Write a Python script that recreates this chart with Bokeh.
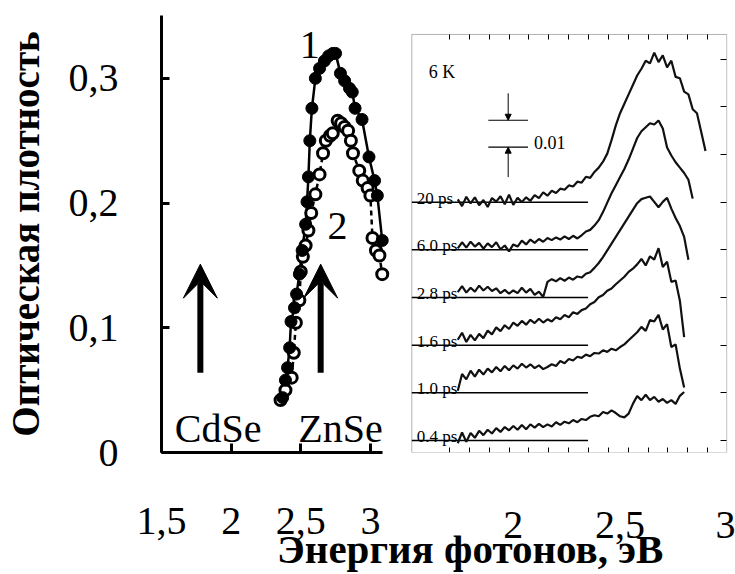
from bokeh.plotting import figure
from bokeh.models import (FixedTicker, LinearAxis, Arrow, VeeHead, NormalHead, Label, Range1d,
                          BoxAnnotation)
from bokeh.embed import file_html
from bokeh.resources import INLINE

FONT = "Liberation Serif"

# ---------------- left panel: optical density ----------------
E1 = [2.37, 2.39, 2.405, 2.42, 2.43, 2.455, 2.47, 2.49, 2.51, 2.535, 2.545, 2.555, 2.565, 2.58,
      2.605, 2.635, 2.67, 2.70, 2.73, 2.75, 2.785, 2.815, 2.85, 2.87, 2.89, 2.94, 2.99, 3.03,
      3.05, 3.085]
OD1 = [0.044, 0.058, 0.068, 0.084, 0.105, 0.116, 0.127, 0.143, 0.162, 0.183, 0.201, 0.221, 0.250,
       0.276, 0.300, 0.308, 0.314, 0.318, 0.320, 0.320, 0.304, 0.298, 0.292, 0.289, 0.276, 0.267,
       0.237, 0.218, 0.206, 0.170]
E2 = [2.355, 2.39, 2.435, 2.45, 2.465, 2.49, 2.50, 2.515, 2.535, 2.555, 2.575, 2.605, 2.635, 2.66,
      2.68, 2.71, 2.73, 2.765, 2.79, 2.815, 2.84, 2.86, 2.875, 2.92, 2.945, 2.98, 3.0, 3.015,
      3.04, 3.065, 3.085]
OD2 = [0.042, 0.050, 0.060, 0.080, 0.104, 0.122, 0.145, 0.157, 0.166, 0.178, 0.192, 0.207, 0.223,
       0.240, 0.250, 0.254, 0.256, 0.266, 0.264, 0.261, 0.258, 0.250, 0.240, 0.226, 0.218, 0.212,
       0.206, 0.172, 0.162, 0.158, 0.143]
LEFT_XTICKS = [1.5, 2, 2.5, 3]
LEFT_XLABELS = ["1,5", "2", "2,5", "3"]
LEFT_YTICKS = [0, 0.1, 0.2, 0.3]
LEFT_YLABELS = ["0", "0,1", "0,2", "0,3"]
LEFT_AXIS_END = 3.085
ARROW_X = [1.779, 2.643]
ARROW_Y0 = 0.064
ARROW_Y1 = 0.151
LEFT_TEXTS = ["1", "2"]
LEFT_TEXT_X = [2.564, 2.764]
LEFT_TEXT_Y = [0.327, 0.182]
MAT_TEXTS = ["CdSe", "ZnSe"]
MAT_X = [1.907, 2.786]
MAT_Y = 0.019

# ---------------- right panel: differential spectra (mOD) ----------------
E_GRID = [1.74, 1.76, 1.78, 1.80, 1.82, 1.84, 1.86, 1.88, 1.90, 1.92, 1.94, 1.96, 1.98, 2.00,
          2.02, 2.04, 2.06, 2.08, 2.10, 2.12, 2.14, 2.16, 2.18, 2.20, 2.22, 2.24, 2.26, 2.28,
          2.30, 2.32, 2.34, 2.36, 2.38, 2.40, 2.42, 2.44, 2.46, 2.48, 2.50, 2.52, 2.54, 2.56,
          2.58, 2.60, 2.62, 2.64, 2.66, 2.68, 2.70, 2.72, 2.74, 2.76, 2.78, 2.80, 2.82, 2.84,
          2.86, 2.88, 2.90]
T_20 = [1.0, -1.5, 2.0, -0.5, 1.8, -1.2, 0.8, -1.8, 1.5, 0.2, 2.2, -0.8, 2.8, -1.0, 1.6, 0.0,
        1.8, 0.5, 2.6, 1.5, 3.6, 2.4, 4.2, 3.4, 5.0, 4.6, 6.2, 5.8, 7.6, 7.2, 9.4, 9.0, 11.2,
        12.8, 15.0, 18.0, 23.0, 28.5, 33.0, 36.5, 40.0, 43.5, 47.0, 49.5, 52.5, 51.5, 55.5,
        52.0, 54.5, 50.0, 52.5, 46.5, 46.0, 41.0, 40.0, 34.5, 33.0, 26.0, 19.0]
T_6 = [0.5, 2.8, 0.8, 3.0, 1.2, 2.6, 0.4, 2.4, 1.0, 2.8, 0.2, 1.6, -0.6, 2.0, 1.2, 3.4, 2.0,
       3.8, 2.6, 4.0, 3.0, 4.4, 3.6, 4.6, 3.8, 5.0, 4.0, 5.2, 4.2, 5.4, 6.8, 7.4, 9.0, 11.0,
       14.0, 17.5, 21.0, 24.0, 27.0, 30.0, 33.5, 37.5, 41.5, 44.0, 45.5, 47.0, 46.5, 48.0,
       45.0, 38.0, 35.0, 32.5, 30.5, 28.5, 26.0, 19.0]
T_28 = [2.0, 4.2, 1.8, 3.6, 2.2, 4.4, 2.6, 4.0, 2.4, 3.4, 1.6, 2.8, 1.4, 2.6, 1.6, 3.6, 1.8,
        3.2, 1.0, 2.2, 0.2, 5.8, 6.8, 6.0, 7.2, 6.2, 7.4, 6.6, 7.8, 7.4, 8.8, 9.4, 11.0, 12.8,
        15.0, 17.5, 20.0, 22.5, 25.0, 27.5, 30.0, 32.5, 35.0, 36.5, 37.0, 37.5, 35.5, 33.5,
        35.5, 37.0, 33.0, 29.5, 26.5, 22.5, 14.0]
T_16 = [2.0, 4.6, 1.2, 3.8, 1.8, 4.2, 2.6, 5.4, 4.0, 6.6, 5.2, 7.4, 6.0, 8.4, 7.2, 9.0, 7.6,
        9.4, 8.2, 9.8, 8.4, 9.6, 8.8, 10.4, 9.6, 11.2, 10.4, 12.2, 11.6, 13.0, 13.6, 15.2,
        16.0, 17.8, 18.6, 20.2, 21.0, 22.6, 24.0, 25.4, 27.2, 28.4, 30.0, 32.0, 29.6, 33.0,
        31.8, 36.0, 29.0, 31.0, 23.5, 24.0, 16.5, 3.0]
T_10 = [0.8, 7.0, 5.0, 8.2, 6.0, 8.6, 6.8, 9.0, 7.6, 9.6, 8.0, 10.0, 8.4, 10.2, 9.0, 10.8,
        9.4, 10.6, 9.2, 10.2, 8.8, 9.6, 10.6, 10.0, 11.8, 11.0, 12.6, 12.0, 13.4, 13.0, 14.2,
        13.6, 14.8, 14.6, 15.8, 15.2, 16.4, 15.8, 17.0, 18.0, 19.5, 21.0, 22.5, 24.5, 23.0,
        27.0, 26.5, 29.0, 23.5, 25.5, 17.0, 18.0, 9.0, 2.0]
T_04 = [-1.0, 3.0, -0.5, 2.8, 1.0, 3.6, 2.0, 4.0, 2.6, 4.6, 3.2, 5.0, 3.8, 5.4, 4.0, 5.8, 4.2,
        6.0, 4.8, 6.2, 5.0, 6.0, 5.2, 6.8, 5.8, 7.0, 6.4, 7.6, 6.8, 8.0, 7.6, 8.8, 9.4, 9.0,
        10.6, 10.0, 11.2, 10.2, 9.0, 8.6, 10.0, 13.6, 16.5, 15.0, 17.0, 15.0, 16.2, 14.4, 15.4,
        14.0, 15.0, 13.6, 16.6, 18.0]
TRACES = [T_04, T_10, T_16, T_28, T_6, T_20]
TRACE_NAMES = ["0.4 ps", "1.0 ps", "1.6 ps", "2.8 ps", "6.0 ps", "20  ps"]
OFFSETS = [0, 17.7, 35.4, 53.1, 70.8, 88.5]
RIGHT_YTICKS = [0, 17.7, 35.4, 53.1, 70.8, 88.5, 106.2, 123.9, 141.6]
INSET_MINOR = [1.701, 1.794, 1.887, 1.980, 2.073, 2.166, 2.259, 2.352, 2.445, 2.538, 2.631,
               2.724, 2.817, 2.910]
RIGHT_XTICKS = [2, 2.5, 3]
RIGHT_XLABELS = ["2", "2,5", "3"]
INSET_X0, INSET_X1 = 1.5247, 3.0
INSET_BOTTOM, INSET_TOP = -4.444, 150.74
BASELINE_END = 2.35
LABEL_X = 1.548
SCALE_LOW = 108.9
SCALE_STEP = 10.0
SCALE_X0, SCALE_X1, SCALE_XA = 1.883, 2.069, 1.976
SCALE_ARROW_FROM_TOP = 128.9
SCALE_ARROW_FROM_BOTTOM = 97.8
X_TITLE = "Энергия фотонов, эВ"
Y_TITLE = "Оптическая плотность"
TITLE_SPAN_START = 0.5995
TITLE_INDENT = "\u00a0" * 5   # nudges the centred x title to the right, as in the original

# ================= single canvas holding both panels =================
p = figure(width=735, height=574, title=None, x_range=Range1d(1.5, 5.5643),
           y_range=Range1d(0, 0.3504), x_axis_location=None, y_axis_location=None,
           output_backend="svg", toolbar_location=None,
           min_border_left=158, min_border_right=8, min_border_top=15, min_border_bottom=121)
p.outline_line_color = None
p.grid.visible = False
p.extra_x_ranges = {"rx": Range1d(0.3526, 3.003)}
p.extra_y_ranges = {"ry": Range1d(-4.444, 157.78)}


def style_labels(ax, size="40px"):
    ax.major_label_text_font = FONT
    ax.major_label_text_font_size = size
    ax.major_label_text_color = "black"


def no_minor(ax):
    ax.minor_tick_in = 0
    ax.minor_tick_out = 0


# ---- left panel axes ----
ya = LinearAxis(ticker=FixedTicker(ticks=LEFT_YTICKS, minor_ticks=[]))
ya.major_label_overrides = dict(zip(LEFT_YTICKS, LEFT_YLABELS))
ya.axis_line_width = 3
ya.major_tick_line_width = 3
ya.major_tick_in = 8
ya.major_tick_out = 0
no_minor(ya)
ya.major_label_standoff = 43
style_labels(ya)
ya.axis_label = Y_TITLE
ya.axis_label_text_font = FONT
ya.axis_label_text_font_style = "bold"
ya.axis_label_text_font_size = "39px"
ya.axis_label_text_color = "black"
ya.axis_label_standoff = 19
p.add_layout(ya, "left")

xa = LinearAxis(ticker=FixedTicker(ticks=LEFT_XTICKS, minor_ticks=[]),
                bounds=(LEFT_XTICKS[0], LEFT_AXIS_END))
xa.major_label_overrides = dict(zip(LEFT_XTICKS, LEFT_XLABELS))
xa.axis_line_width = 3
xa.major_tick_line_width = 3
xa.major_tick_in = 9
xa.major_tick_out = 0
no_minor(xa)
xa.major_label_standoff = 55
style_labels(xa)
p.add_layout(xa, "below")

# labels of the right panel's energy scale and the shared x title (stacked under xa)
lab = LinearAxis(x_range_name="rx", bounds=(TITLE_SPAN_START, 3.003),
                 ticker=FixedTicker(ticks=RIGHT_XTICKS, minor_ticks=[]))
lab.major_label_overrides = dict(zip(RIGHT_XTICKS, RIGHT_XLABELS))
lab.axis_line_color = None
lab.major_tick_in = 0
lab.major_tick_out = 0
no_minor(lab)
lab.major_label_standoff = -25
style_labels(lab)
lab.axis_label = TITLE_INDENT + X_TITLE
lab.axis_label_text_font = FONT
lab.axis_label_text_font_style = "bold"
lab.axis_label_text_font_size = "41px"
lab.axis_label_text_color = "black"
lab.axis_label_standoff = -15
p.add_layout(lab, "below")

# ---- right panel frame and tick marks ----
p.add_layout(BoxAnnotation(left=INSET_X0, right=INSET_X1, bottom=INSET_BOTTOM, top=INSET_TOP,
                           x_range_name="rx", y_range_name="ry", fill_color=None,
                           line_color="black", line_width=1))

for side, loc, bnds, tks, ln in (("below", INSET_BOTTOM, (INSET_X0, INSET_X1), INSET_MINOR, 5),
                                 ("above", INSET_TOP, (INSET_X0, INSET_X1), INSET_MINOR, 5),
                                 ("right", INSET_X1, (INSET_BOTTOM, INSET_TOP), RIGHT_YTICKS, 6)):
    ax = LinearAxis(x_range_name="rx", y_range_name="ry", fixed_location=loc, bounds=bnds,
                    ticker=FixedTicker(ticks=[], minor_ticks=tks))
    ax.axis_line_color = None
    ax.major_tick_in = 0
    ax.major_tick_out = 0
    ax.minor_tick_in = ln
    ax.minor_tick_out = 0
    ax.minor_tick_line_color = "black"
    ax.major_label_standoff = 0
    p.add_layout(ax, side)

# ---- left panel data ----
p.line(E1, OD1, line_width=2.5, color="black")
p.line(E2, OD2, line_width=2.5, color="black", line_dash="5 4")
p.scatter(E2, OD2, size=11, fill_color="white", line_color="black", line_width=3)
p.scatter(E1, OD1, size=12, fill_color="black", line_color="black")

for ax_x in ARROW_X:
    p.add_layout(Arrow(end=VeeHead(size=34, fill_color="black", line_color="black"),
                       x_start=ax_x, y_start=ARROW_Y0, x_end=ax_x, y_end=ARROW_Y1,
                       line_width=6, line_color="black"))
for t, lx, ly in zip(LEFT_TEXTS, LEFT_TEXT_X, LEFT_TEXT_Y):
    p.add_layout(Label(x=lx, y=ly, text=t, text_align="center", text_baseline="middle",
                       text_font=FONT, text_font_size="40px", text_color="black"))
for t, lx in zip(MAT_TEXTS, MAT_X):
    p.add_layout(Label(x=lx, y=MAT_Y, text=t, text_align="center", text_baseline="alphabetic",
                       text_font=FONT, text_font_size="40px", text_color="black"))

# ---- right panel data ----
p.segment(x0=[INSET_X0] * len(OFFSETS), y0=OFFSETS, x1=[BASELINE_END] * len(OFFSETS),
          y1=OFFSETS, line_width=1.5, color="black", x_range_name="rx", y_range_name="ry")
for vals, off in zip(TRACES, OFFSETS):
    p.line(E_GRID[:len(vals)], [off + v for v in vals], line_width=2.2, color="#111111",
           x_range_name="rx", y_range_name="ry")
for name, off in zip(TRACE_NAMES, OFFSETS):
    p.add_layout(Label(x=LABEL_X, y=off + 1.5, text=name, text_align="left",
                       text_baseline="alphabetic", text_font=FONT, text_font_size="17px",
                       text_color="black", x_range_name="rx", y_range_name="ry"))
p.add_layout(Label(x=1.604, y=136.7, text="6 K", text_font=FONT, text_font_size="18px",
                   text_baseline="alphabetic", text_color="black",
                   x_range_name="rx", y_range_name="ry"))
p.add_layout(Label(x=2.097, y=110.7, text="0.01", text_font=FONT, text_font_size="18px",
                   text_baseline="alphabetic", text_color="black",
                   x_range_name="rx", y_range_name="ry"))
p.segment(x0=[SCALE_X0, SCALE_X0], y0=[SCALE_LOW, SCALE_LOW + SCALE_STEP],
          x1=[SCALE_X1, SCALE_X1], y1=[SCALE_LOW, SCALE_LOW + SCALE_STEP],
          line_width=1.2, color="black", x_range_name="rx", y_range_name="ry")
p.add_layout(Arrow(end=NormalHead(size=6, fill_color="black", line_color="black"),
                   x_start=SCALE_XA, y_start=SCALE_ARROW_FROM_TOP, x_end=SCALE_XA,
                   y_end=SCALE_LOW + SCALE_STEP, line_width=1, line_color="black",
                   x_range_name="rx", y_range_name="ry"))
p.add_layout(Arrow(end=NormalHead(size=6, fill_color="black", line_color="black"),
                   x_start=SCALE_XA, y_start=SCALE_ARROW_FROM_BOTTOM, x_end=SCALE_XA,
                   y_end=SCALE_LOW, line_width=1, line_color="black",
                   x_range_name="rx", y_range_name="ry"))

open("out.html", "w").write(file_html(p, INLINE))
